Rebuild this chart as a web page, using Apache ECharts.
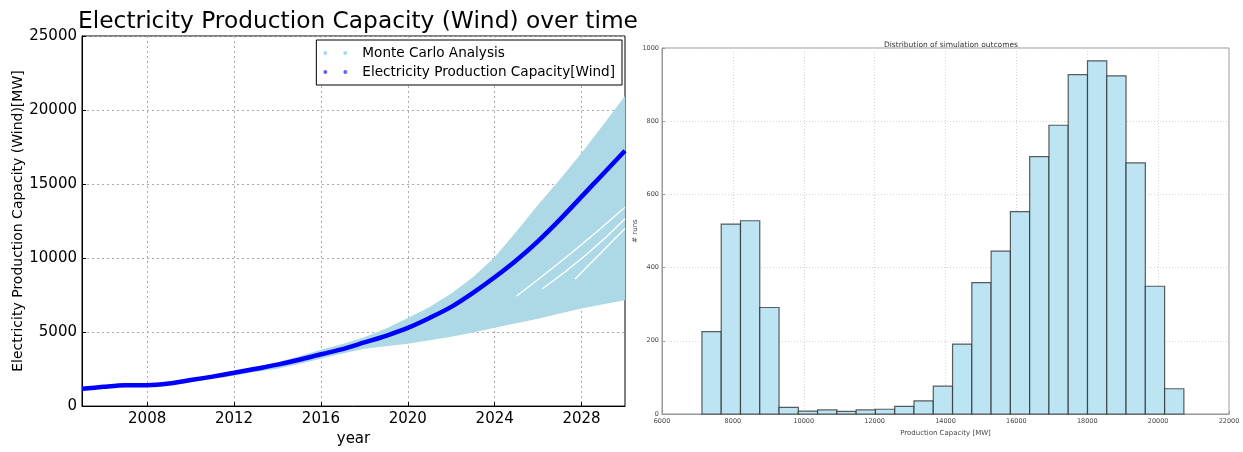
<!DOCTYPE html>
<html>
<head>
<meta charset="utf-8">
<script src="https://cdn.jsdelivr.net/npm/echarts@6/dist/echarts.min.js"></script>
<style>
  html, body { margin: 0; padding: 0; background: #fff; }
  #chart { width: 1243px; height: 452px; }
</style>
</head>
<body>
<div id="chart"></div>
<script>
// left panel: capacity over time
const years = [2005, 2006, 2007, 2008, 2009, 2010, 2011, 2012, 2013, 2014, 2015, 2016, 2017,
  2018, 2019, 2020, 2021, 2022, 2023, 2024, 2025, 2026, 2027, 2028, 2029, 2030];
const baseRun = [1170, 1300, 1400, 1410, 1530, 1760, 1990, 2250, 2520, 2800, 3130, 3500, 3850,
  4300, 4750, 5280, 5950, 6700, 7650, 8700, 9850, 11150, 12600, 14150, 15700, 17250];
const runsUpper = [1200, 1330, 1430, 1440, 1570, 1830, 2080, 2370, 2660, 2970, 3370, 3800, 4200,
  4650, 5250, 5950, 6700, 7600, 8700, 10050, 11800, 13600, 15300, 17100, 19000, 20950];
const runsLower = [1090, 1210, 1310, 1330, 1420, 1610, 1830, 2050, 2300, 2530, 2850, 3200, 3550,
  3880, 4050, 4220, 4450, 4680, 4980, 5290, 5600, 5900, 6250, 6600, 6880, 7150];
// white gaps between runs in the band
const gapA = [[2025.0, 7420], [2027.5, 10300], [2030, 13430]];
const gapB = [[2026.2, 7930], [2028.2, 10200], [2030, 12660]];
const gapC = [[2027.7, 8590], [2030, 12000]];
const yearTicks = [2008, 2012, 2016, 2020, 2024, 2028];

// right panel: histogram of outcomes
const binEdges = [7127, 7671, 8215, 8759, 9303, 9847, 10391, 10935, 11479, 12023, 12567, 13111, 13655,
  14199, 14743, 15287, 15831, 16375, 16919, 17463, 18007, 18551, 19095, 19639, 20183, 20727];
const runCounts = [225, 519, 528, 291, 18, 8, 11, 7, 11, 13, 21, 36, 76,
  191, 359, 445, 553, 703, 789, 927, 965, 924, 686, 349, 69];

const FONT = 'DejaVu Sans';
const dots = 'path://M0,2a2,2 0 1,1 4,0a2,2 0 1,1 -4,0zM20,2a2,2 0 1,1 4,0a2,2 0 1,1 -4,0z';
const plain = v => String(v);

const chart = echarts.init(document.getElementById('chart'), null, { renderer: 'canvas' });

const bandData = years.map((y, i) => [y, runsLower[i], runsUpper[i]]);
const histData = runCounts.map((c, i) => [binEdges[i], binEdges[i + 1], c]);

function gapSeries(pts) {
  return {
    type: 'line', xAxisIndex: 0, yAxisIndex: 0, data: pts, silent: true,
    showSymbol: false, smooth: true, z: 3,
    lineStyle: { color: '#ffffff', width: 1.3 }
  };
}

const option = {
  backgroundColor: '#ffffff',
  animation: false,
  title: [
    {
      text: 'Electricity Production Capacity (Wind) over time',
      left: 353, top: 5, textAlign: 'center',
      textStyle: { fontFamily: FONT, fontSize: 23.3, fontWeight: 'normal', color: '#000' }
    },
    {
      text: 'Distribution of simulation outcomes',
      left: 946, top: 36, textAlign: 'center',
      textStyle: { fontFamily: FONT, fontSize: 7.5, fontWeight: 'normal', color: '#333' }
    }
  ],
  legend: {
    right: 621, top: 40,
    orient: 'vertical',
    padding: [6, 7, 6, 7],
    itemGap: 5,
    itemWidth: 24, itemHeight: 4,
    borderColor: '#000', borderWidth: 1, borderRadius: 0,
    backgroundColor: '#fff',
    textStyle: { fontFamily: FONT, fontSize: 13.6, color: '#000', padding: [0, 0, 0, 10] },
    data: [
      { name: 'Monte Carlo Analysis', icon: dots, itemStyle: { color: '#a9d9ea' } },
      { name: 'Electricity Production Capacity[Wind]', icon: dots, itemStyle: { color: '#6262ff' } }
    ]
  },
  grid: [
    { left: 82, top: 36, width: 543, height: 379, show: true, borderColor: '#000', borderWidth: 1, backgroundColor: 'transparent' },
    { left: 662, top: 48, width: 567, height: 366, show: true, borderColor: '#999', borderWidth: 1, backgroundColor: 'transparent' }
  ],
  xAxis: [
    {
      gridIndex: 0, type: 'value', min: 2005, max: 2030,
      name: 'year', nameLocation: 'middle', nameGap: 22,
      nameTextStyle: { fontFamily: FONT, fontSize: 15, color: '#000' },
      axisLine: { lineStyle: { color: '#000', width: 1 } },
      axisTick: { inside: true, length: 4, lineStyle: { color: '#000' }, customValues: yearTicks },
      axisLabel: { fontFamily: FONT, fontSize: 15, color: '#000', margin: 6, customValues: yearTicks, formatter: plain },
      splitLine: { show: true, lineStyle: { color: '#aaa', type: [2, 3], width: 1 } }
    },
    {
      gridIndex: 1, type: 'value', min: 6000, max: 22000, interval: 2000,
      name: 'Production Capacity [MW]', nameLocation: 'middle', nameGap: 15,
      nameTextStyle: { fontFamily: FONT, fontSize: 7, color: '#444' },
      axisLine: { lineStyle: { color: '#999', width: 1 } },
      axisTick: { inside: true, length: 3, lineStyle: { color: '#999' } },
      axisLabel: { fontFamily: FONT, fontSize: 6.5, color: '#444', margin: 4, formatter: plain },
      splitLine: { show: true, lineStyle: { color: '#d4d4d4', type: [1, 2], width: 1 } }
    }
  ],
  yAxis: [
    {
      gridIndex: 0, type: 'value', min: 0, max: 25000, interval: 5000,
      name: 'Electricity Production Capacity (Wind)[MW]', nameLocation: 'middle', nameGap: 52,
      nameTextStyle: { fontFamily: FONT, fontSize: 14, color: '#000' },
      axisLine: { show: true, lineStyle: { color: '#000', width: 1 } },
      axisTick: { show: true, inside: true, length: 4, lineStyle: { color: '#000' } },
      axisLabel: { fontFamily: FONT, fontSize: 15, color: '#000', margin: 5, formatter: plain },
      splitLine: { show: true, lineStyle: { color: '#aaa', type: [2, 3], width: 1 } }
    },
    {
      gridIndex: 1, type: 'value', min: 0, max: 1000, interval: 200,
      name: '# runs', nameLocation: 'middle', nameGap: 9,
      nameTextStyle: { fontFamily: FONT, fontSize: 7, color: '#444' },
      axisLine: { show: true, lineStyle: { color: '#999', width: 1 } },
      axisTick: { show: true, inside: true, length: 3, lineStyle: { color: '#999' } },
      axisLabel: { fontFamily: FONT, fontSize: 6.5, color: '#444', margin: 3, formatter: plain },
      splitLine: { show: true, lineStyle: { color: '#d4d4d4', type: [1, 2], width: 1 } }
    }
  ],
  series: [
    {
      name: 'Monte Carlo Analysis',
      type: 'custom', xAxisIndex: 0, yAxisIndex: 0, z: 2,
      itemStyle: { color: '#add8e6' },
      data: bandData,
      encode: { x: 0, y: [1, 2] },
      renderItem: function (params, api) {
        if (params.dataIndex !== 0) return null;
        const pts = [];
        for (let i = 0; i < years.length; i++) pts.push(api.coord([years[i], runsUpper[i]]));
        for (let i = years.length - 1; i >= 0; i--) pts.push(api.coord([years[i], runsLower[i]]));
        return { type: 'polygon', shape: { points: pts }, style: { fill: '#add8e6' } };
      }
    },
    gapSeries(gapA),
    gapSeries(gapB),
    gapSeries(gapC),
    {
      name: 'Electricity Production Capacity[Wind]',
      type: 'line', xAxisIndex: 0, yAxisIndex: 0, z: 4,
      data: years.map((y, i) => [y, baseRun[i]]),
      showSymbol: false, smooth: 0.3,
      itemStyle: { color: '#0000ff' },
      lineStyle: { color: '#0000ff', width: 4.5 }
    },
    {
      name: 'histogram',
      type: 'custom', xAxisIndex: 1, yAxisIndex: 1,
      data: histData,
      encode: { x: [0, 1], y: 2 },
      renderItem: function (params, api) {
        const p0 = api.coord([api.value(0), api.value(2)]);
        const p1 = api.coord([api.value(1), 0]);
        return {
          type: 'rect',
          shape: { x: p0[0], y: p0[1], width: p1[0] - p0[0], height: p1[1] - p0[1] },
          style: { fill: '#bce4f3', stroke: 'rgba(40,40,40,0.75)', lineWidth: 1.2 }
        };
      }
    }
  ]
};

chart.setOption(option);
</script>
</body>
</html>
